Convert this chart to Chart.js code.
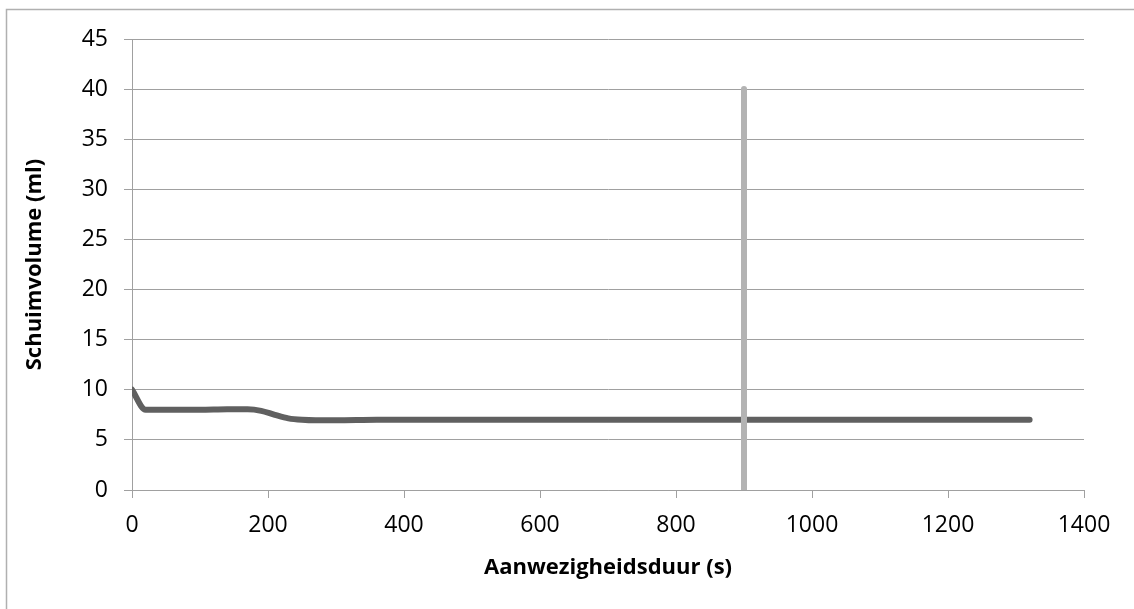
<!DOCTYPE html>
<html>
<head>
<meta charset="utf-8">
<script src="https://cdn.jsdelivr.net/npm/chart.js@4.4.1/dist/chart.umd.min.js"></script>
<style>
  html, body { margin: 0; padding: 0; background: #ffffff; }
  #wrap { width: 1134px; height: 609px; position: relative; }
</style>
</head>
<body>
<div id="wrap"><canvas id="c" width="1134" height="609"></canvas></div>
<script>
// Foam volume measured over the presence time
const timeSec = [0, 20, 60, 100, 140, 170, 190, 210, 230, 250, 270, 300, 360, 420, 600, 800, 1000, 1200, 1320];
const foamMl  = [10, 8, 8, 8, 8.05, 8.05, 7.9, 7.5, 7.15, 7.0, 6.95, 6.95, 7, 7, 7, 7, 7, 7, 7];

// Marker line at 900 s
const markerTime = [900, 900];
const markerMl   = [0, 40];

const xTicks = [0, 200, 400, 600, 800, 1000, 1200, 1400];
const yTicks = [0, 5, 10, 15, 20, 25, 30, 35, 40, 45];

const xTitle = 'Aanwezigheidsduur (s)';
const yTitle = 'Schuimvolume (ml)';

const FONT = "'Open Sans', 'Liberation Sans', sans-serif";

// Outer frame of the chart object
const framePlugin = {
  id: 'frame',
  beforeDraw(chart) {
    const ctx = chart.ctx;
    ctx.save();
    ctx.fillStyle = '#ffffff';
    ctx.fillRect(0, 0, chart.width, chart.height);
    ctx.strokeStyle = '#b0b0b0';
    ctx.lineWidth = 1.5;
    ctx.strokeRect(6.5, 9.5, chart.width + 20, chart.height + 20);
    ctx.restore();
  }
};

const plainNumber = v => String(v);

new Chart(document.getElementById('c'), {
  type: 'line',
  data: {
    datasets: [
      {
        label: 'marker',
        data: markerTime.map((t, i) => ({ x: t, y: markerMl[i] })),
        borderColor: '#b3b3b3',
        borderWidth: 6,
        borderCapStyle: 'round',
        pointRadius: 0,
        order: 0
      },
      {
        label: 'schuim',
        data: timeSec.map((t, i) => ({ x: t, y: foamMl[i] })),
        borderColor: '#606060',
        borderWidth: 6,
        borderCapStyle: 'round',
        borderJoinStyle: 'round',
        cubicInterpolationMode: 'monotone',
        pointRadius: 0,
        order: 1
      }
    ]
  },
  options: {
    responsive: false,
    animation: false,
    layout: { padding: { left: 0, top: 39, right: 50, bottom: 0 } },
    plugins: {
      legend: { display: false },
      tooltip: { enabled: false }
    },
    scales: {
      x: {
        type: 'linear',
        min: 0,
        max: 1400,
        afterBuildTicks(scale) { scale.ticks = xTicks.map(v => ({ value: v })); },
        afterFit(scale) { scale.height = 119; },
        grid: {
          drawOnChartArea: false,
          drawTicks: true,
          tickLength: 8,
          color: '#a0a0a0',
          lineWidth: 1
        },
        border: { display: true, color: '#a0a0a0', width: 1 },
        ticks: {
          color: '#000000',
          font: { family: FONT, size: 23 },
          padding: 14,
          maxRotation: 0,
          callback: plainNumber
        },
        title: {
          display: true,
          text: xTitle,
          color: '#000000',
          font: { family: FONT, size: 22, weight: 'bold' },
          padding: { top: 2, bottom: 28 }
        }
      },
      y: {
        type: 'linear',
        min: 0,
        max: 45,
        afterBuildTicks(scale) { scale.ticks = yTicks.map(v => ({ value: v })); },
        afterFit(scale) { scale.width = 132; },
        grid: {
          drawOnChartArea: true,
          drawTicks: true,
          tickLength: 8,
          color: '#a0a0a0',
          lineWidth: 1
        },
        border: { display: true, color: '#a0a0a0', width: 1 },
        ticks: {
          color: '#000000',
          font: { family: FONT, size: 23 },
          padding: 16,
          callback: plainNumber
        },
        title: {
          display: true,
          text: yTitle,
          color: '#000000',
          font: { family: FONT, size: 22, weight: 'bold' },
          padding: { top: 22, bottom: 0 }
        }
      }
    }
  },
  plugins: [framePlugin]
});
</script>
</body>
</html>
